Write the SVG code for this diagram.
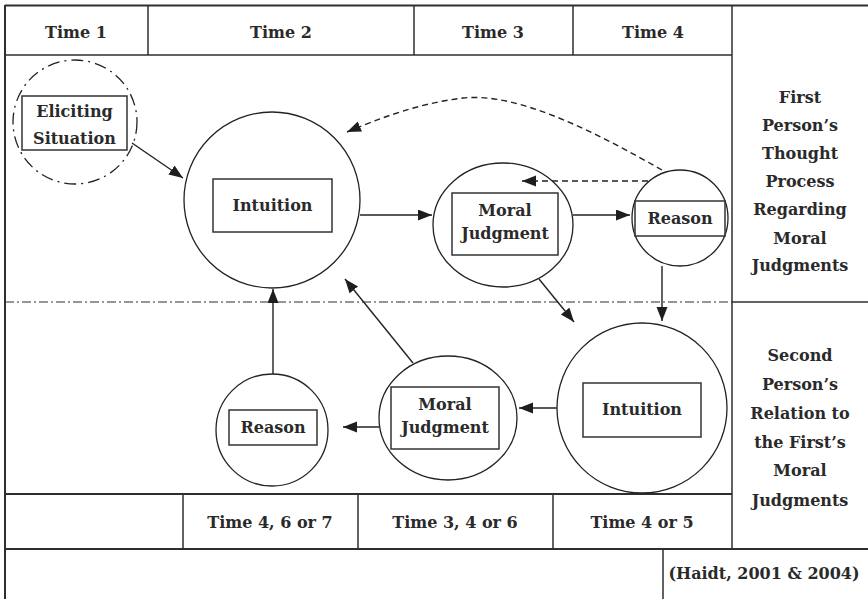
<svg xmlns="http://www.w3.org/2000/svg" width="868" height="599" viewBox="0 0 868 599">
<defs>
<marker id="ah" markerUnits="userSpaceOnUse" markerWidth="16" markerHeight="12" refX="14" refY="5.5" orient="auto">
<path d="M0,0 L14,5.5 L0,11 z" fill="#1e1e1e"/>
</marker>
<style>
.t{font-family:"DejaVu Serif","Liberation Serif",serif;font-weight:bold;font-size:16px;fill:#2a2a2a;text-anchor:middle}
.frame{stroke:#2e2e2e;stroke-width:2;fill:none}
.div{stroke:#2e2e2e;stroke-width:1.5;fill:none}
.node{stroke:#222;stroke-width:1.3;fill:none}
.box{stroke:#333;stroke-width:1.5;fill:none}
.c{stroke:#222;stroke-width:1.4;fill:none;marker-end:url(#ah)}
.d{stroke:#222;stroke-width:1.4;fill:none;stroke-dasharray:6 4;marker-end:url(#ah)}
</style>
</defs>
<rect width="868" height="599" fill="#fff"/>
<g id="grid">
<line class="frame" x1="5" y1="5.5" x2="868" y2="5.5"/>
<line class="frame" x1="5" y1="5" x2="5" y2="599"/>
<line class="div" x1="5" y1="55" x2="732" y2="55"/>
<line class="div" x1="148" y1="5" x2="148" y2="55"/>
<line class="div" x1="414" y1="5" x2="414" y2="55"/>
<line class="div" x1="573" y1="5" x2="573" y2="55"/>
<line class="div" x1="732" y1="5" x2="732" y2="549"/>
<line stroke="#2e2e2e" stroke-width="1.2" stroke-dasharray="9 3 2 3" x1="5" y1="302" x2="732" y2="302"/>
<line class="div" x1="732" y1="302" x2="868" y2="302"/>
<line class="frame" x1="5" y1="494" x2="732" y2="494"/>
<line class="div" x1="183" y1="494" x2="183" y2="549"/>
<line class="div" x1="358" y1="494" x2="358" y2="549"/>
<line class="div" x1="553" y1="494" x2="553" y2="549"/>
<line class="frame" x1="5" y1="549" x2="868" y2="549"/>
<line class="div" x1="663" y1="549" x2="663" y2="599"/>
</g>
<g id="labels">
<text class="t" x="76" y="38">Time 1</text>
<text class="t" x="281" y="38">Time 2</text>
<text class="t" x="493" y="38">Time 3</text>
<text class="t" x="653" y="38">Time 4</text>
<text class="t" x="270" y="528">Time 4, 6 or 7</text>
<text class="t" x="455" y="528">Time 3, 4 or 6</text>
<text class="t" x="642" y="528">Time 4 or 5</text>
<text class="t" x="764" y="579">(Haidt, 2001 &amp; 2004)</text>
<text class="t" x="800" y="103">First</text>
<text class="t" x="800" y="131">Person’s</text>
<text class="t" x="800" y="159">Thought</text>
<text class="t" x="800" y="187">Process</text>
<text class="t" x="800" y="215">Regarding</text>
<text class="t" x="800" y="244">Moral</text>
<text class="t" x="800" y="271">Judgments</text>
<text class="t" x="800" y="361">Second</text>
<text class="t" x="800" y="390">Person’s</text>
<text class="t" x="800" y="419">Relation to</text>
<text class="t" x="800" y="448">the First’s</text>
<text class="t" x="800" y="476">Moral</text>
<text class="t" x="800" y="506">Judgments</text>
</g>
<g id="eliciting">
<circle cx="75" cy="122" r="62" fill="none" stroke="#222" stroke-width="1.3" stroke-dasharray="12 5 2 5"/>
<rect class="box" x="22" y="96" width="105" height="54"/>
<text class="t" x="74.5" y="117">Eliciting</text>
<text class="t" x="74.5" y="144">Situation</text>
</g>
<g id="intuition1">
<circle class="node" cx="272" cy="200" r="88"/>
<rect class="box" x="213" y="179" width="119" height="53"/>
<text class="t" x="272.5" y="211">Intuition</text>
</g>
<g id="judgment1">
<ellipse class="node" cx="503" cy="225" rx="70" ry="62"/>
<rect class="box" x="452" y="193" width="106" height="62"/>
<text class="t" x="505" y="216">Moral</text>
<text class="t" x="505" y="239">Judgment</text>
</g>
<g id="reason1">
<circle class="node" cx="680" cy="218" r="48"/>
<rect class="box" x="635" y="201" width="90" height="35"/>
<text class="t" x="680" y="224">Reason</text>
</g>
<g id="intuition2">
<circle class="node" cx="642" cy="408" r="85"/>
<rect class="box" x="583" y="383" width="118" height="54"/>
<text class="t" x="642" y="415">Intuition</text>
</g>
<g id="judgment2">
<ellipse class="node" cx="448" cy="418" rx="69" ry="62"/>
<rect class="box" x="391" y="387" width="108" height="62"/>
<text class="t" x="445" y="410">Moral</text>
<text class="t" x="445" y="433">Judgment</text>
</g>
<g id="reason2">
<circle class="node" cx="272" cy="430" r="56"/>
<rect class="box" x="229" y="410" width="88" height="35"/>
<text class="t" x="273" y="433">Reason</text>
</g>
<g id="connectors">
<line class="c" x1="132" y1="143" x2="183" y2="178"/>
<line class="c" x1="360" y1="215" x2="432" y2="215"/>
<line class="c" x1="573" y1="215" x2="630" y2="215"/>
<line class="d" x1="648" y1="181" x2="522" y2="181"/>
<path class="d" d="M662,170 C600,135 520,92 463,98 C420,103 380,118 347,132"/>
<line class="c" x1="662" y1="266" x2="662" y2="321"/>
<line class="c" x1="539" y1="279" x2="574" y2="322"/>
<line class="c" x1="557" y1="408" x2="519" y2="408"/>
<line class="c" x1="379" y1="427" x2="343" y2="427"/>
<line class="c" x1="273" y1="374" x2="273" y2="289"/>
<line class="c" x1="413" y1="363" x2="345" y2="279"/>
</g>
</svg>
